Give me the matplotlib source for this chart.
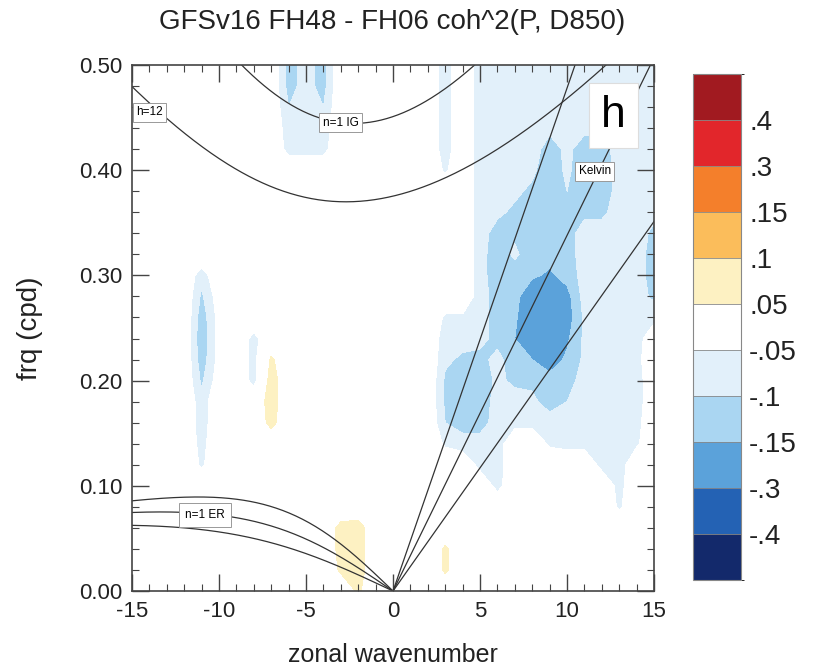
import numpy as np
import matplotlib
matplotlib.use("Agg")
import matplotlib.pyplot as plt
from matplotlib.colors import ListedColormap, BoundaryNorm
from matplotlib.cm import ScalarMappable
from matplotlib.ticker import MultipleLocator

plt.rcParams['font.family'] = ['Liberation Sans', 'DejaVu Sans']

# wavenumber / frequency grid of the coherence-squared difference (FH48 - FH06)
wavenumbers = np.arange(-15, 16)
freqs = np.round(np.arange(0.50, -0.001, -0.02), 2)   # rows listed top -> bottom

# values in hundredths; columns k = -15 ... -1 | 0 | 1 ... 15
coh_diff_rows = [
    [0,0,0,0,0,0,0,0,0,-12,-8,-12,0,0,0,  0,  0,0,-8,0,-8,-8,-8,-8,-8,-8,-8,-8,-8,-8,-8],   # 0.50
    [0,0,0,0,0,0,0,0,0,-12,-8,-12,0,0,0,  0,  0,0,-8,0,-8,-8,-8,-8,-8,-8,-8,-8,-8,-8,-8],   # 0.48
    [0,0,0,0,0,0,0,0,0,-10,-8,-10,0,0,0,  0,  0,0,-8,0,-8,-8,-8,-8,-8,-8,-8,-8,-8,-8,-8],   # 0.46
    [0,0,0,0,0,0,0,0,0,-8,-8,-8,0,0,0,    0,  0,0,-8,0,-8,-8,-8,-8,-9,-8,-9,-9,-8,-8,-8],   # 0.44
    [0,0,0,0,0,0,0,0,0,-7,-7,-7,0,0,0,    0,  0,0,-8,0,-8,-8,-8,-8,-12,-9,-12,-12,-8,-8,-8],   # 0.42
    [0,0,0,0,0,0,0,0,0,0,0,0,0,0,0,       0,  0,0,-6,0,-8,-8,-8,-9,-13,-9,-13,-13,-8,-8,-8],   # 0.40
    [0,0,0,0,0,0,0,0,0,0,0,0,0,0,0,       0,  0,0,0,0,-8,-8,-9,-11,-14,-10,-13,-13,-8,-8,-8],  # 0.38
    [0,0,0,0,0,0,0,0,0,0,0,0,0,0,0,       0,  0,0,0,0,-8,-9,-11,-12,-14,-12,-11,-11,-8,-8,-9], # 0.36
    [0,0,0,0,0,0,0,0,0,0,0,0,0,0,0,       0,  0,0,0,0,-8,-12,-11,-13,-14,-12,-8,-8,-8,-8,-11], # 0.34
    [0,0,0,0,0,0,0,0,0,0,0,0,0,0,0,       0,  0,0,0,0,-8,-13,-9,-13,-13,-12,-8,-8,-8,-8,-12],  # 0.32
    [0,0,0,0,-8,0,0,0,0,0,0,0,0,0,0,      0,  0,0,0,0,-8,-13,-13,-14,-16,-13,-8,-8,-8,-8,-12], # 0.30
    [0,0,0,0,-11,-2,0,0,0,0,0,0,0,0,0,    0,  0,0,0,0,-8,-12,-13,-20,-23,-17,-8,-8,-8,-8,-11], # 0.28
    [0,0,0,0,-13,-3,0,0,0,0,0,0,0,0,0,    0,  0,0,-6,-6,-8,-12,-14,-21,-24,-18,-9,-8,-8,-8,-7], # 0.26
    [0,0,0,0,-14,-3,0,-7,0,0,0,0,0,0,0,   0,  0,0,-8,-8,-9,-11,-15,-20,-22,-16,-9,-8,-8,-8,0],  # 0.24
    [0,0,0,0,-13,-3,0,-7,6,0,0,0,0,0,0,   0,  0,0,-9,-11,-11,-9,-12,-15,-18,-14,-9,-8,-8,-7,0], # 0.22
    [0,0,0,0,-11,-2,0,-7,8,0,0,0,0,0,0,   0,  0,0,-11,-13,-13,-9,-11,-11,-13,-12,-8,-8,-8,-8,0], # 0.20
    [0,0,0,0,-8,0,0,0,8,0,0,0,0,0,0,      0,  0,0,-11,-13,-13,-8,-8,-9,-12,-10,-8,-8,-8,-8,0],  # 0.18
    [0,0,0,0,-8,0,0,0,7,0,0,0,0,0,0,      0,  0,0,-10,-12,-12,-8,-7,-7,-8,-8,-8,-8,-8,-7,0],    # 0.16
    [0,0,0,0,-7,0,0,0,0,0,0,0,0,0,0,      0,  0,0,-6,-8,-8,-8,0,0,-6,-7,-7,-8,-8,-6,0],         # 0.14
    [0,0,0,0,-6,0,0,0,0,0,0,0,0,0,0,      0,  0,0,0,0,-7,-8,0,0,0,0,0,-7,-8,0,0],               # 0.12
    [0,0,0,0,0,0,0,0,0,0,0,0,0,0,0,       0,  0,0,0,0,0,-7,0,0,0,0,0,0,-7,0,0],                 # 0.10
    [0,0,0,0,0,0,0,0,0,0,0,0,0,0,0,       0,  0,0,0,0,0,0,0,0,0,0,0,0,-6,0,0],                  # 0.08
    [0,0,0,0,0,0,0,0,0,0,0,0,7,8,0,       0,  0,0,0,0,0,0,0,0,0,0,0,0,0,0,0],                   # 0.06
    [0,0,0,0,0,0,0,0,0,0,0,0,7,8,0,       0,  0,0,6,0,0,0,0,0,0,0,0,0,0,0,0],                   # 0.04
    [0,0,0,0,0,0,0,0,0,0,0,0,6,8,0,       0,  0,0,6,0,0,0,0,0,0,0,0,0,0,0,0],                   # 0.02
    [0,0,0,0,0,0,0,0,0,0,0,0,0,6,0,       0,  0,0,0,0,0,0,0,0,0,0,0,0,0,0,0],                   # 0.00
]

# shading intervals and colours (outermost bounds only close the end boxes)
level_bounds = [-1.0, -0.4, -0.3, -0.15, -0.1, -0.05, 0.05, 0.1, 0.15, 0.3, 0.4, 1.0]
level_colors = ['#13296b', '#2462b4', '#5ba2da', '#aad6f2', '#e2f0fa', '#ffffff',
                '#fdf1c2', '#fbbd5b', '#f47f2b', '#e2262b', '#a11a20']
cbar_labels = ['-.4', '-.3', '-.15', '-.1', '-.05', '.05', '.1', '.15', '.3', '.4']

# equivalent depths (m) of the shallow-water dispersion curves
equiv_depths = [12, 25, 50]

GRAV = 9.81
RADIUS = 6.371e6
BETA = 2.0 * 7.292e-5 / RADIUS
SEC_PER_DAY = 86400.0


def kelvin_freq(k, h):
    c = np.sqrt(GRAV * h)
    return c * (k / RADIUS) / (2 * np.pi) * SEC_PER_DAY


def er_freq(k, h):
    c = np.sqrt(GRAV * h)
    km = k / RADIUS
    omega = -BETA * km / (km ** 2 + 3 * BETA / c)
    return omega / (2 * np.pi) * SEC_PER_DAY


def ig_freq(k, h):
    """ n=1 inertia-gravity branch: largest root of the cubic in omega """
    c = np.sqrt(GRAV * h)
    out = []
    for kk in k:
        km = kk / RADIUS
        roots = np.roots([1.0, 0.0, -(c ** 2 * km ** 2 + 3 * BETA * c), -BETA * c ** 2 * km])
        out.append(np.max(roots.real))
    return np.array(out) / (2 * np.pi) * SEC_PER_DAY


field = np.array(coh_diff_rows, dtype=float)[::-1] / 100.0
freq_axis = freqs[::-1]

fig = plt.figure(figsize=(8.23, 6.72), dpi=100)
ax = fig.add_axes([0.1604, 0.1205, 0.6343, 0.7828])

ax.contourf(wavenumbers, freq_axis, field, levels=level_bounds, colors=level_colors)

line_kw = dict(color='#333333', lw=0.9)
k_pos = np.linspace(0, 15, 200)
k_neg = np.linspace(-15, 0, 200)
k_all = np.linspace(-16, 16, 400)
for h in equiv_depths:
    ax.plot(k_pos, kelvin_freq(k_pos, h), **line_kw)
    ax.plot(k_neg, er_freq(k_neg, h), **line_kw)
    ax.plot(k_all, ig_freq(k_all, h), **line_kw)

box_kw = dict(boxstyle='square,pad=0.3', fc='white', ec='#999999', lw=0.7)
ax.text(-14.0, 0.455, 'h=12', fontsize=8.5, ha='center', va='center', bbox=box_kw)
ax.text(-3.0, 0.445, 'n=1 IG', fontsize=8.5, ha='center', va='center', bbox=box_kw)
ax.text(11.6, 0.399, 'Kelvin', fontsize=8.5, ha='center', va='center', bbox=box_kw)
ax.text(-10.8, 0.072, 'n=1 ER', fontsize=8.5, ha='center', va='center',
        bbox=dict(boxstyle='square,pad=0.5', fc='white', ec='#999999', lw=0.7))

# panel letter
ax.text(0.922, 0.904, 'h', transform=ax.transAxes, fontsize=32, ha='center', va='center',
        bbox=dict(boxstyle='square,pad=0.28', fc='white', ec='#dddddd', lw=0.8))

ax.set_xlim(-15, 15)
ax.set_ylim(0, 0.5)
ax.xaxis.set_major_locator(MultipleLocator(5))
ax.xaxis.set_minor_locator(MultipleLocator(1))
ax.yaxis.set_major_locator(MultipleLocator(0.1))
ax.yaxis.set_minor_locator(MultipleLocator(0.02))
ax.set_xticks([-15, -10, -5, 0, 5, 10, 15])
ax.set_xticklabels(['-15', '-10', '-5', '0', '5', '10', '15'])
ax.set_yticks([0.0, 0.1, 0.2, 0.3, 0.4, 0.5])
ax.set_yticklabels(['0.00', '0.10', '0.20', '0.30', '0.40', '0.50'])
ax.tick_params(which='both', direction='in', top=True, right=True, colors='#444444',
               labelcolor='#222222')
ax.tick_params(which='major', length=12, width=1.0, labelsize=16, pad=7)
ax.tick_params(which='minor', length=5, width=0.8)
for sp in ax.spines.values():
    sp.set_color('#444444')
    sp.set_linewidth(1.2)

fig.text(0.477, 0.967, 'GFSv16 FH48 - FH06 coh^2(P, D850)', fontsize=20,
         ha='center', va='center', color='#222222')
fig.text(0.477, 0.025, 'zonal wavenumber', fontsize=18, ha='center', va='center',
         color='#222222')
fig.text(0.036, 0.512, 'frq (cpd)', fontsize=20, ha='center', va='center',
         rotation=90, color='#222222')

# colour bar with equal-sized boxes
cax = fig.add_axes([0.842, 0.137, 0.058, 0.753])
cmap = ListedColormap(level_colors)
norm = BoundaryNorm(level_bounds, cmap.N)
cb = fig.colorbar(ScalarMappable(norm=norm, cmap=cmap), cax=cax, spacing='uniform',
                  drawedges=True)
cb.set_ticks(level_bounds[1:-1])
cb.set_ticklabels(cbar_labels)
cb.ax.tick_params(length=0, labelsize=20, pad=6, labelcolor='#222222')
cb.outline.set_edgecolor('#888888')
cb.outline.set_linewidth(0.8)
cb.dividers.set_color('#888888')
cb.dividers.set_linewidth(0.6)

fig.savefig('out.png', dpi=100)
